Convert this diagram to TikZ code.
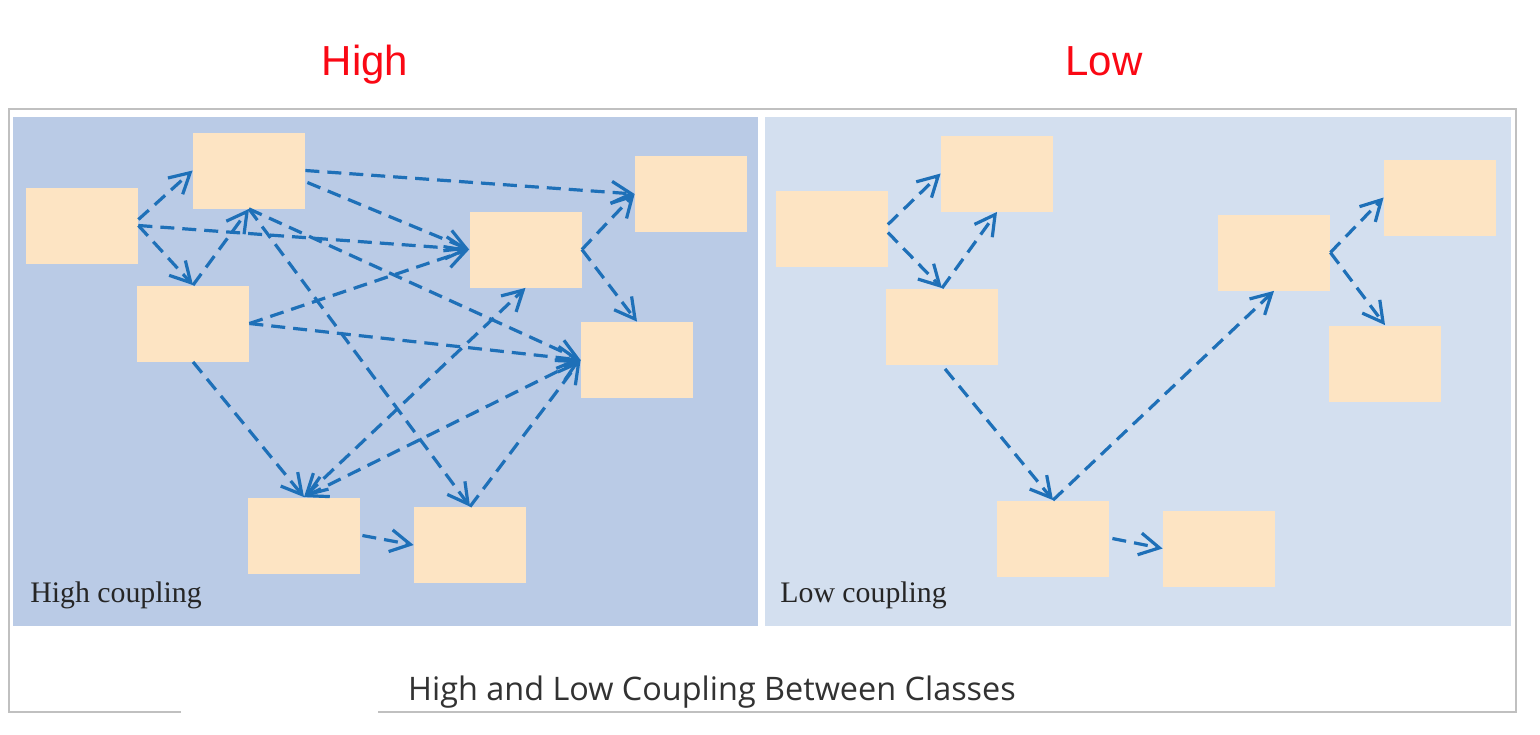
\documentclass[tikz,border=0pt]{standalone}
\usepackage{fontspec}
\setmainfont{Liberation Serif}
\newfontfamily\titlefont{Liberation Sans}
\newfontfamily\capfont{Open Sans}
\usetikzlibrary{arrows.meta,calc}
\definecolor{panelA}{RGB}{186,203,230}
\definecolor{panelB}{RGB}{211,223,239}
\definecolor{boxfill}{RGB}{253,228,195}
\definecolor{arrowblue}{RGB}{30,112,184}
\definecolor{framegray}{RGB}{192,192,192}
\definecolor{titlered}{RGB}{250,8,20}
\definecolor{captext}{RGB}{50,50,50}
\begin{document}
\begin{tikzpicture}[x=0.5pt,y=-0.5pt,
  box/.style={fill=boxfill,draw=none,minimum width=56pt,minimum height=38pt,inner sep=0pt},
  dep/.style={draw=arrowblue,line width=1.6pt,dash pattern=on 7pt off 4pt,
     -{Straight Barb[length=10pt,width=11pt]}},
  bidep/.style={draw=arrowblue,line width=1.6pt,dash pattern=on 7pt off 4pt,
     {Straight Barb[length=10pt,width=11pt]}-{Straight Barb[length=10pt,width=11pt]}},
  title/.style={text=titlered,font=\titlefont\fontsize{21pt}{24pt}\selectfont,anchor=base,inner sep=0pt},
  panellabel/.style={text=black!85,font=\fontsize{14.9pt}{17pt}\selectfont,anchor=base west,inner sep=0pt},
  caption/.style={text=captext,font=\capfont\fontsize{16.2pt}{19pt}\selectfont,anchor=base,inner sep=0pt}
]
\useasboundingbox (0,0) rectangle (1540,734);
\fill[white] (0,0) rectangle (1540,734);

% titles
\node[title] (tHigh) at (365,75) {High};
\node[title] (tLow) at (1104,75) {Low};

% frame with gap in bottom edge
\draw[framegray,line width=1pt] (181,712) -- (9,712) -- (9,109) -- (1516,109) -- (1516,712) -- (378,712);

% panels
\fill[panelA] (13,117) rectangle (758,626);
\fill[panelB] (765,117) rectangle (1511,626);

% left boxes
\node[box] (L1) at (82,225.5) {};
\node[box] (L2) at (249,170.5) {};
\node[box] (L3) at (193,323.5) {};
\node[box] (L4) at (525.5,249.5) {};
\node[box] (L5) at (691,194) {};
\node[box] (L6) at (637,360) {};
\node[box] (L7) at (304,535.5) {};
\node[box] (L8) at (470,545) {};

% right boxes
\node[box] (R1) at (831.5,228.5) {};
\node[box] (R2) at (997,173.5) {};
\node[box] (R3) at (942,326.5) {};
\node[box] (R4) at (1274,252.5) {};
\node[box] (R5) at (1440,197.5) {};
\node[box] (R6) at (1385,363.5) {};
\node[box] (R7) at (1053,538.5) {};
\node[box] (R8) at (1219,548.5) {};

% left arrows
\draw[dep] ($(L1.east)+(0,-6)$) -- (L2.west);
\draw[dep] (L1.east) -- (L4.west);
\draw[dep] (L1.east) -- (L3.north);
\draw[dep] (L3.north) -- (L2.south);
\draw[dep] (L2.east) -- (L5.west);
\draw[dep] ($(L2.east)+(2,12)$) -- (L4.west);
\draw[dep] (L2.south) -- (L6.west);
\draw[dep] (L2.south) -- (L8.north);
\draw[dep] (L3.east) -- (L4.west);
\draw[dep] (L3.east) -- (L6.west);
\draw[dep] (L3.south) -- (L7.north);
\draw[bidep] (L7.north) -- (L4.south);
\draw[bidep] (L7.north) -- (L6.west);
\draw[dep] (L8.north) -- (L6.west);
\draw[dep] ($(L7.east)+(2,0)$) -- (L8.west);
\draw[dep] (L4.east) -- (L5.west);
\draw[dep] (L4.east) -- (L6.north);

% right arrows
\draw[dep] ($(R1.east)+(0,-4)$) -- (R2.west);
\draw[dep] ($(R1.east)+(0,4)$) -- (R3.north);
\draw[dep] (R3.north) -- (R2.south);
\draw[dep] ($(R3.south)+(3,4)$) -- (R7.north);
\draw[dep] (R7.north) -- (R4.south);
\draw[dep] (R4.east) -- (R5.west);
\draw[dep] (R4.east) -- (R6.north);
\draw[dep] ($(R7.east)+(3,0)$) -- (R8.west);

% labels
\node[panellabel] (lblHigh) at (30,602) {High coupling};
\node[panellabel] (lblLow) at (780,602) {Low coupling};
\node[caption] (cap) at (712,700) {High and Low Coupling Between Classes};
\end{tikzpicture}
\end{document}
